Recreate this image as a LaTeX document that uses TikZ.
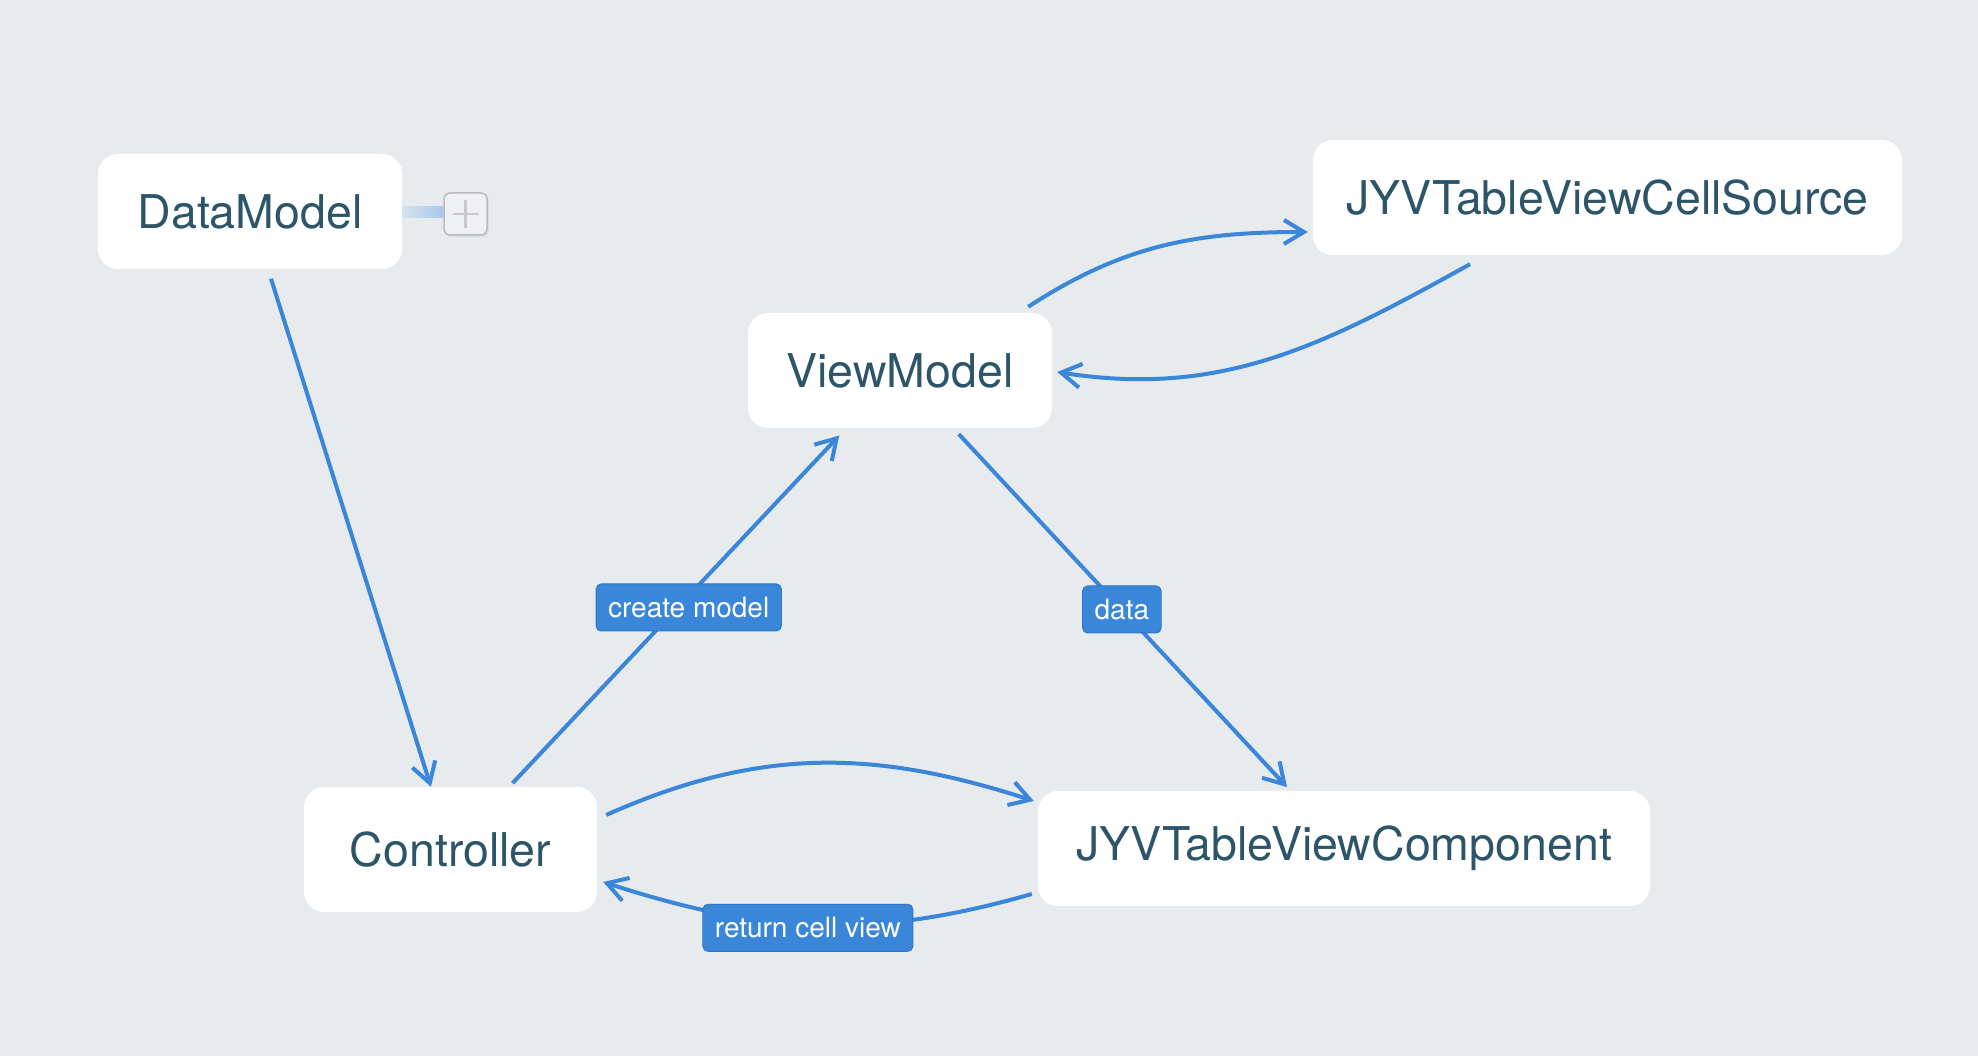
\documentclass[tikz,border=0pt]{standalone}
\usepackage{fontspec}
\setmainfont{TeX Gyre Heros}
\usetikzlibrary{arrows.meta}

\definecolor{bggray}{RGB}{232,235,238}
\definecolor{linkblue}{RGB}{58,135,217}
\definecolor{tagedge}{RGB}{47,118,200}
\definecolor{boxtext}{RGB}{45,85,105}
\definecolor{barlight}{RGB}{214,226,240}
\definecolor{barblue}{RGB}{168,199,234}
\definecolor{plusfill}{RGB}{238,240,242}
\definecolor{plusedge}{RGB}{186,186,188}
\definecolor{pluscross}{RGB}{200,200,202}

\begin{document}
\begin{tikzpicture}[x=1pt,y=1pt,
  box/.style={fill=white, rounded corners=20pt, minimum height=115pt, inner sep=0pt,
    text=boxtext, font=\fontsize{46.5}{56}\selectfont},
  tag/.style={fill=linkblue, draw=tagedge, line width=1pt, rounded corners=5pt,
    text=white, font=\fontsize{28}{34}\selectfont, minimum height=47pt,
    inner xsep=12pt, inner ysep=0pt},
  link/.style={draw=linkblue, line width=4pt, -{Straight Barb[length=20pt,width=24pt]}}]
\fill[bggray] (0,0) rectangle (1978,1056);
\useasboundingbox (0,0) rectangle (1978,1056);

% boxes
\node[box, minimum width=304pt] (dm) at (250,844.5) {DataModel};
\node[box, minimum width=589pt] (cs) at (1607.5,858.5) {JYVTableViewCellSource};
\node[box, minimum width=304pt] (vm) at (900,685.5) {ViewModel};
\node[box, minimum width=293pt, minimum height=125pt] (ctrl) at (450.5,206.5) {Controller};
\node[box, minimum width=612pt] (comp) at (1344,207.5) {JYVTableViewComponent};

% collapsed child of DataModel
\fill[black, opacity=0.06, rounded corners=6pt] (445,819) rectangle (489,861);
\node[fill=plusfill, draw=plusedge, line width=1.5pt, rounded corners=6pt,
  minimum width=43pt, minimum height=42pt] (plus) at (465.5,842) {};
\shade[left color=barlight, right color=barblue] ([yshift=-6.5pt]dm.east) rectangle ([yshift=7pt]plus.west);
\draw[pluscross, line width=2.5pt] ([xshift=-13pt]plus.center) -- ([xshift=13pt]plus.center);
\draw[pluscross, line width=2.5pt] ([yshift=-14pt]plus.center) -- ([yshift=14pt]plus.center);

% links
\draw[link, shorten <=10pt] (dm) -- (ctrl);
\draw[link, shorten <=5pt, shorten >=10pt] (ctrl) -- node[tag, xshift=11pt] {create model} (vm);
\draw[link, shorten <=8pt, shorten >=5pt] (vm) -- node[tag] {data} (comp);
\draw[link] ([xshift=-24pt,yshift=6pt]vm.north east) to[out=33,in=180] ([xshift=-5pt,yshift=-34.5pt]cs.west);
\draw[link] ([xshift=-137.5pt,yshift=-9pt]cs.south) to[out=209,in=-9] ([xshift=5pt,yshift=-1.5pt]vm.east);
\draw[link] ([xshift=9pt,yshift=34.5pt]ctrl.east) to[out=24,in=162] ([xshift=-4pt,yshift=47.5pt]comp.west);
\draw[link] ([xshift=-6pt,yshift=-45.5pt]comp.west) to[out=196,in=-18] node[tag, xshift=-9pt, yshift=-3pt] {return cell view} ([xshift=6pt,yshift=-32.5pt]ctrl.east);
\end{tikzpicture}
\end{document}
